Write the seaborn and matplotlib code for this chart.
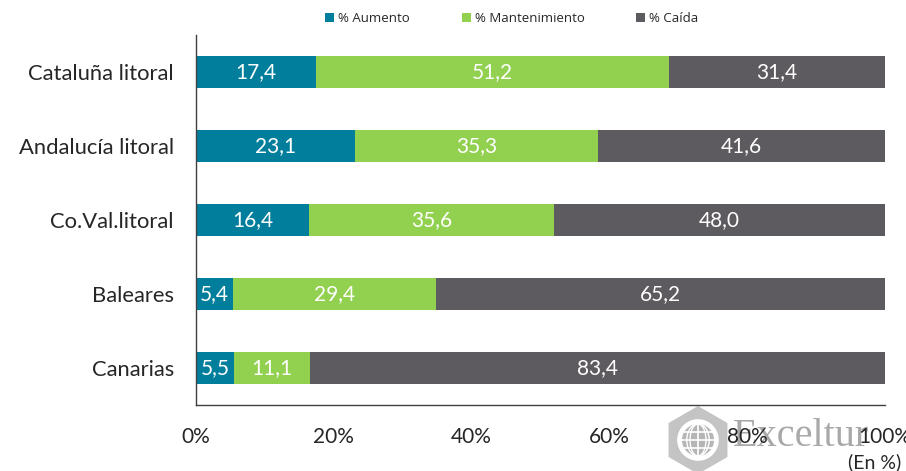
import matplotlib
matplotlib.use("Agg")
import matplotlib.pyplot as plt
from matplotlib.patches import Patch, RegularPolygon, Circle
import numpy as np
import pandas as pd
import seaborn as sns

regions = ["Cataluña litoral", "Andalucía litoral", "Co.Val.litoral", "Baleares", "Canarias"]
aumento = [17.4, 23.1, 16.4, 5.4, 5.5]
mantenimiento = [51.2, 35.3, 35.6, 29.4, 11.1]
caida = [31.4, 41.6, 48.0, 65.2, 83.4]
series_names = ["% Aumento", "% Mantenimiento", "% Caída"]
colors = ["#007E9C", "#92D050", "#5E5B60"]
x_ticks = [0, 20, 40, 60, 80, 100]

sns.set_theme(style="white")
plt.rcParams["font.family"] = ["Lato", "DejaVu Sans"]

df = pd.DataFrame({"region": regions, "a": aumento, "m": mantenimiento, "c": caida})
df["cum_a"] = df["a"]
df["cum_m"] = df["a"] + df["m"]
df["cum_c"] = df["a"] + df["m"] + df["c"]

W, H = 906, 471
fig = plt.figure(figsize=(W / 100, H / 100), dpi=100)

# watermark (drawn behind everything else)
wm = fig.add_axes([658 / W, (H - 480) / H, 80 / W, 80 / H], zorder=-1)
wm.set_xlim(-1, 1)
wm.set_ylim(-1, 1)
wm.set_aspect("equal")
wm.axis("off")
wm.add_patch(RegularPolygon((0, 0), numVertices=6, radius=0.85, facecolor="#C4C4C4",
                            edgecolor="none"))
wm.add_patch(Circle((0, 0), 0.52, facecolor="white", edgecolor="none"))
wm.add_patch(Circle((0, 0), 0.40, facecolor="#B5B5B5", edgecolor="none"))
for yy in (-0.2, 0.0, 0.2):
    half = np.sqrt(0.40 ** 2 - yy ** 2)
    wm.plot([-half, half], [yy, yy], color="white", lw=1.2)
wm.plot([0, 0], [-0.4, 0.4], color="white", lw=1.2)
for sx in (0.2, 0.28):
    t = np.linspace(-np.pi / 2, np.pi / 2, 40)
    wm.plot(sx * np.cos(t), 0.4 * np.sin(t), color="white", lw=1.0)
    wm.plot(-sx * np.cos(t), 0.4 * np.sin(t), color="white", lw=1.0)
fig.text(733 / W, 1 - 436 / H, "Exceltur", fontsize=29, family="Liberation Serif",
         color="#A9A9A9", ha="left", va="center", zorder=-1)

ax = fig.add_axes([196 / W, 1 - 405 / H, 689 / W, 370 / H])
ax.patch.set_alpha(0)

# stacked bars: draw cumulative totals back to front
for col, color in zip(["cum_c", "cum_m", "cum_a"], colors[::-1]):
    sns.barplot(data=df, x=col, y="region", orient="h", color=color,
                width=0.42, ax=ax, saturation=1, linewidth=0, order=regions)

# value labels centred in each segment
for i, r in df.iterrows():
    starts = [0, r["a"], r["a"] + r["m"]]
    for s, v in zip(starts, [r["a"], r["m"], r["c"]]):
        ax.text(s + v / 2, i, f"{v:.1f}".replace(".", ","), ha="center", va="center",
                color="white", fontsize=15)

ax.set_xlim(0, 100)
ax.set_ylim(4.5, -0.5)
ax.set_xlabel("")
ax.set_ylabel("")
ax.set_xticks(x_ticks)
ax.set_xticklabels([f"{t}%" for t in x_ticks], fontsize=15)
ax.set_yticks(range(len(regions)))
ax.set_yticklabels(regions, fontsize=15.8)
ax.tick_params(axis="y", length=0, pad=16)
ax.set_yticks(np.arange(-0.5, len(regions)), minor=True)
ax.tick_params(axis="y", which="minor", length=6, width=1, color="#404040", direction="out")
ax.tick_params(axis="x", length=6, width=1, color="#404040", direction="out", pad=10)
for side in ["top", "right"]:
    ax.spines[side].set_visible(False)
for side in ["left", "bottom"]:
    ax.spines[side].set_color("#404040")
    ax.spines[side].set_linewidth(1)

handles = [Patch(facecolor=c, edgecolor="none") for c in colors]
fig.legend(handles, series_names, loc="center", bbox_to_anchor=(0.565, 0.961), ncol=3,
           frameon=False, prop={"family": "Open Sans", "size": 9.5},
           handlelength=0.7, handleheight=0.7, handletextpad=0.3, columnspacing=3.9)

fig.text(848 / W, 0.0, "(En %)", fontsize=14, ha="left", va="bottom")

fig.savefig("out.png", dpi=100)
